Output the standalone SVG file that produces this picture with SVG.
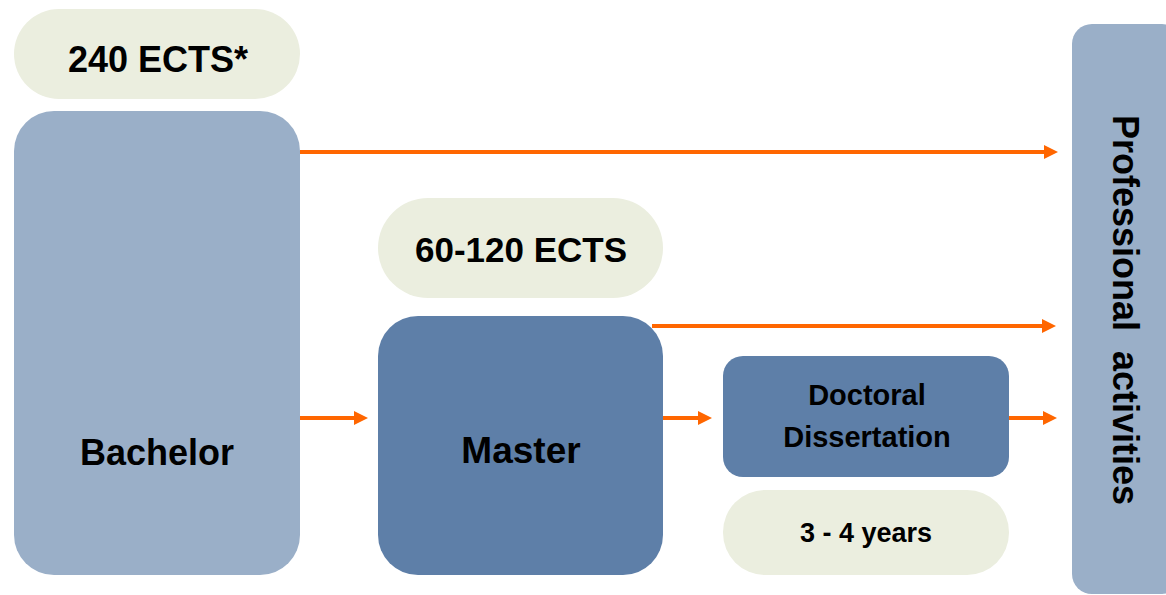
<svg xmlns="http://www.w3.org/2000/svg" width="1166" height="595" viewBox="0 0 1166 595">
<style>
.pill{fill:#ebeedf}
.light{fill:#9aafc8}
.dark{fill:#5e7fa8}
text{font-family:"Liberation Sans",Arial,sans-serif;font-weight:bold;fill:#000;text-anchor:middle}
.conn{stroke:#ff6600;stroke-width:4;fill:none;marker-end:url(#ah)}
</style>
<defs>
<marker id="ah" markerUnits="userSpaceOnUse" markerWidth="14" markerHeight="14" refX="2" refY="7" orient="auto">
<path d="M0,0 L14,7 L0,14 z" fill="#ff6600"/>
</marker>
</defs>
<rect width="1166" height="595" fill="#fff"/>
<g id="ects240">
<rect class="pill" x="14" y="9" width="286" height="90" rx="45"/>
<text x="158" y="72" font-size="36">240 ECTS*</text>
</g>
<g id="bachelor">
<rect class="light" x="14" y="111" width="286" height="464" rx="40"/>
<text x="157" y="465" font-size="36">Bachelor</text>
</g>
<g id="ects60">
<rect class="pill" x="378" y="198" width="285" height="100" rx="50"/>
<text x="521" y="262" font-size="35">60-120 ECTS</text>
</g>
<g id="master">
<rect class="dark" x="378" y="316" width="285" height="259" rx="40"/>
<text x="521" y="463" font-size="37">Master</text>
</g>
<g id="doctoral">
<rect class="dark" x="723" y="356" width="286" height="121" rx="20"/>
<text x="867" y="405" font-size="29">Doctoral</text>
<text x="867" y="447" font-size="29">Dissertation</text>
</g>
<g id="years">
<rect class="pill" x="723" y="490" width="286" height="85" rx="42"/>
<text x="866" y="542" font-size="27">3 - 4 years</text>
</g>
<g id="professional">
<rect class="light" x="1072" y="24" width="110" height="570" rx="20"/>
<text transform="translate(1113,310) rotate(90)" x="0" y="0" font-size="36" xml:space="preserve">Professional  activities</text>
</g>
<g id="connectors">
<path class="conn" d="M300,152 L1046,152"/>
<path class="conn" d="M652,326 L1044,326"/>
<path class="conn" d="M300,418 L356,418"/>
<path class="conn" d="M663,418 L700,418"/>
<path class="conn" d="M1009,418 L1045,418"/>
</g>
</svg>
